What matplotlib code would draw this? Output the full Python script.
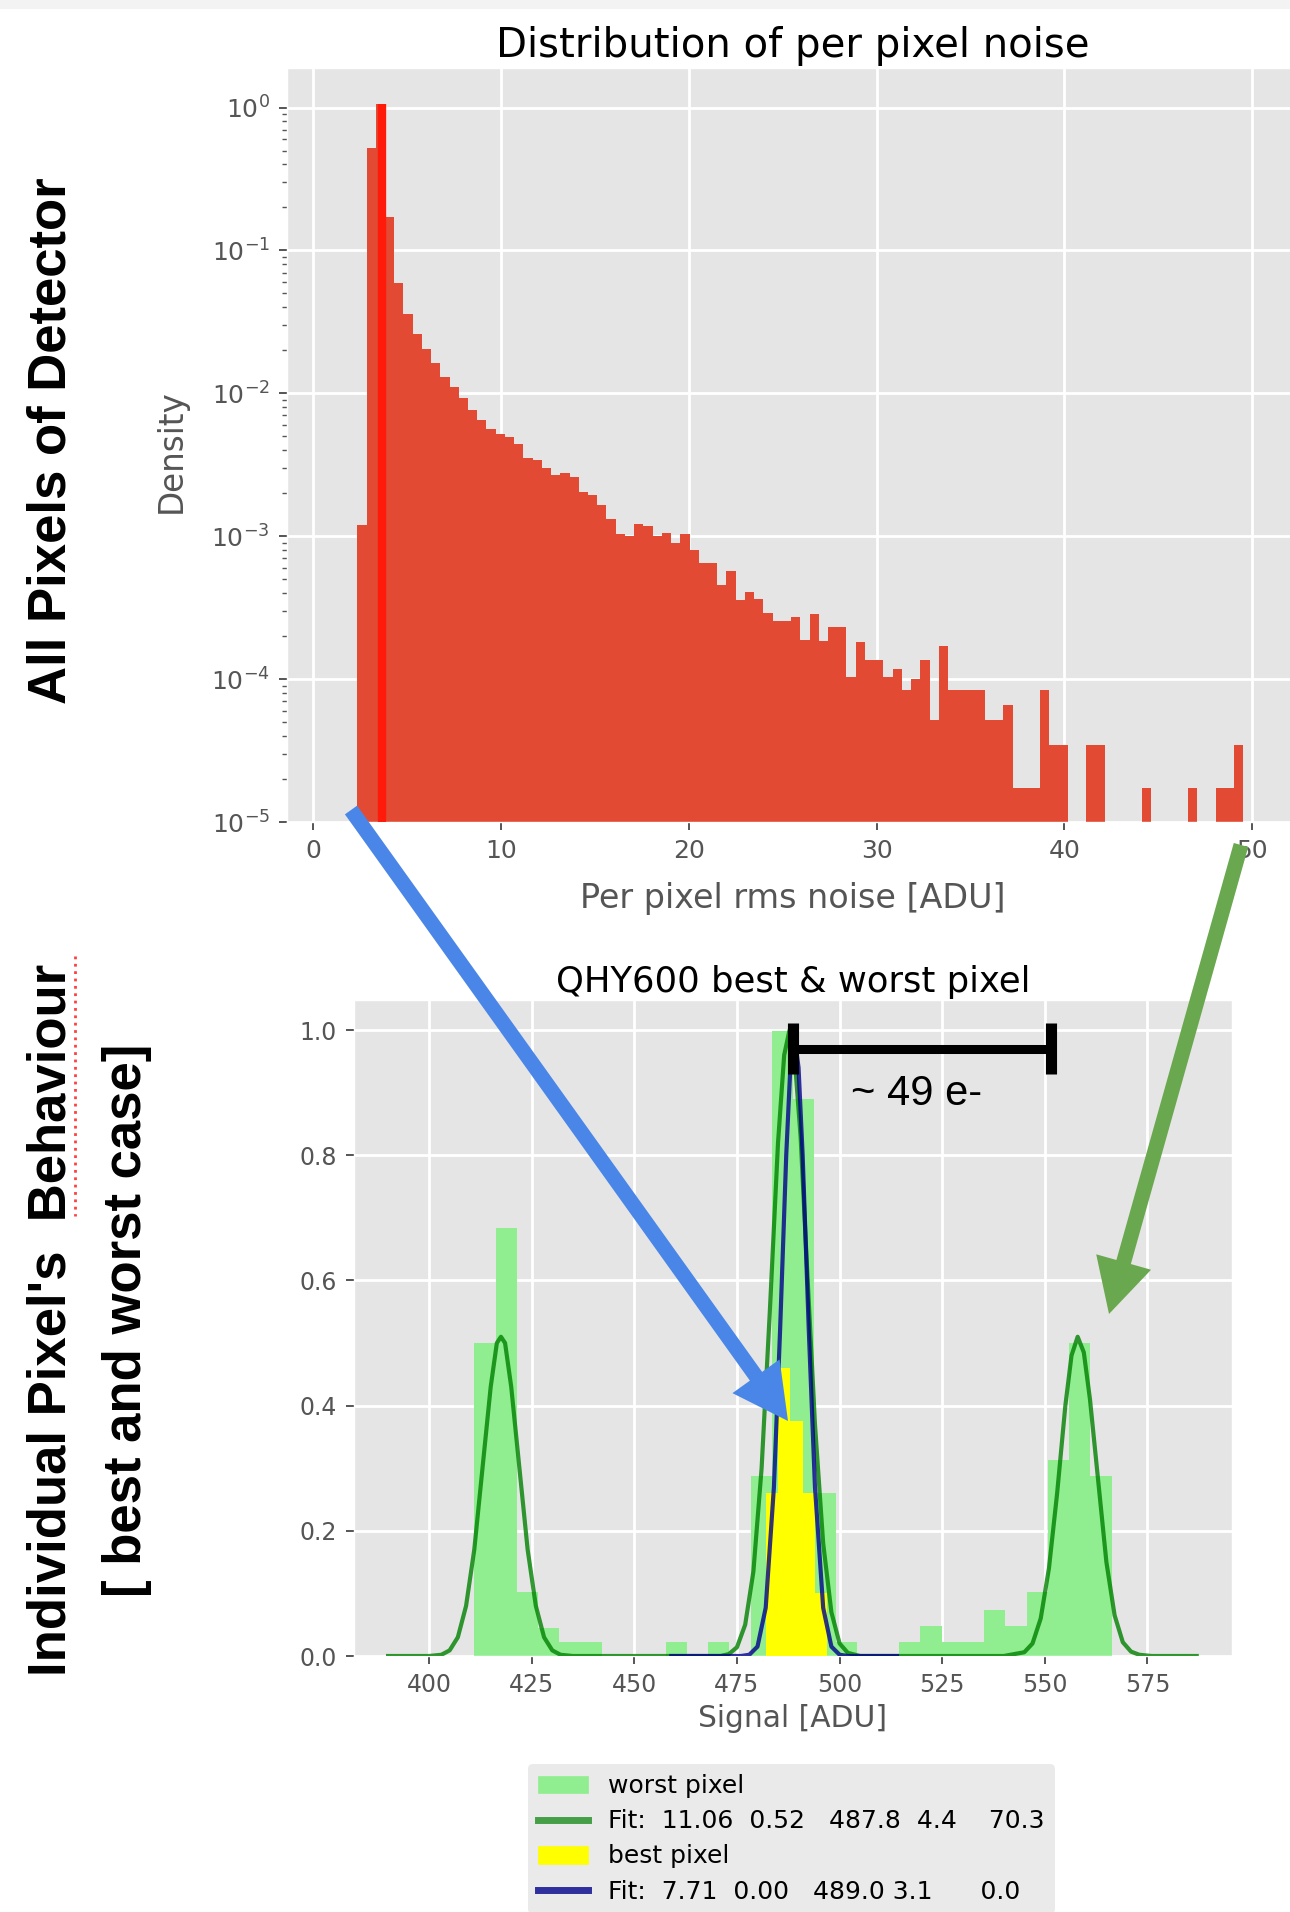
import numpy as np
import matplotlib
matplotlib.use('Agg')
import matplotlib.pyplot as plt
from matplotlib.patches import FancyArrow, Rectangle, Patch
from matplotlib.lines import Line2D

# ---- top panel: distribution of per pixel rms noise (density, log y) ----
noise_lo, noise_hi = 2.34, 49.53          # outer bin edges [ADU]
noise_density = [
    0.00119, 0.52, 1.05, 0.17, 0.059, 0.0358, 0.0258, 0.0205, 0.0162, 0.0130,
    0.0110, 0.0092, 0.0077, 0.00647, 0.00562, 0.0052, 0.00493, 0.00439, 0.00353, 0.00342,
    0.00302, 0.0027, 0.00279, 0.0026, 0.00205, 0.00194, 0.00166, 0.00131, 0.00104, 0.00100,
    0.00121, 0.00117, 0.00100, 0.00106, 0.00089, 0.00104, 0.000804, 0.000652, 0.000652, 0.000459,
    0.000571, 0.000358, 0.000408, 0.000363, 0.000288, 0.000257, 0.000257, 0.00027, 0.000188, 0.000284,
    0.000184, 0.000232, 0.000232, 0.000103, 0.000181, 0.000137, 0.000137, 0.000103, 0.000118, 0.0000843,
    0.000100, 0.000135, 0.000052, 0.000170, 0.0000843, 0.0000843, 0.0000843, 0.0000843, 0.000052, 0.000052,
    0.000066, 0.0000174, 0.0000174, 0.0000174, 0.0000843, 0.0000348, 0.0000348, 0, 0, 0.0000348,
    0.0000348, 0, 0, 0, 0, 0.0000174, 0, 0, 0, 0,
    0.0000174, 0, 0, 0.0000174, 0.0000174, 0.0000348,
]
noise_mean = 3.63
noise_xticks = [0, 10, 20, 30, 40, 50]

# ---- bottom panel: best & worst pixel signal histograms ----
worst_lo, worst_hi = 411.0, 566.3
worst_hist = [0.50, 0.683, 0.103, 0.044, 0.022, 0.022, 0, 0, 0, 0.022,
              0, 0.022, 0, 0.287, 0.998, 0.89, 0.261, 0.022, 0, 0,
              0.022, 0.048, 0.022, 0.022, 0.074, 0.048, 0.103, 0.313, 0.50, 0.287]
best_edges = [482.0, 485.0, 488.0, 491.0, 494.0, 497.0]
best_hist = [0.26, 0.46, 0.375, 0.26, 0.10]

worst_fit_x = [390, 396, 400, 403, 405, 407, 409, 411, 413, 415, 416.5, 417.5, 418.5, 420,
               422, 424, 426, 428, 430, 432, 435, 440, 460, 468, 471, 473, 475, 477, 479,
               481, 483, 485, 486.5, 487.8, 489, 490.5, 492, 494, 496, 498, 500, 502, 505,
               510, 530, 540, 545, 547, 549, 551, 553, 555, 556.5, 558, 559.5, 561, 563,
               565, 567, 569, 571, 573, 576, 580, 587]
worst_fit_y = [0, 0, 0, 0.002, 0.009, 0.03, 0.08, 0.17, 0.30, 0.43, 0.50, 0.51, 0.50, 0.43,
               0.30, 0.17, 0.08, 0.03, 0.009, 0.002, 0, 0, 0, 0, 0, 0.003, 0.014, 0.05, 0.135,
               0.30, 0.55, 0.82, 0.96, 1.0, 0.96, 0.83, 0.63, 0.37, 0.18, 0.07, 0.02, 0.005, 0,
               0, 0, 0, 0.006, 0.02, 0.06, 0.14, 0.26, 0.40, 0.48, 0.51, 0.485, 0.41, 0.28,
               0.15, 0.065, 0.022, 0.007, 0.002, 0, 0, 0]
best_fit_x = [459, 470, 476, 478, 480, 482, 484, 485.5, 487, 488, 489, 490, 491, 492.5,
              494, 496, 498, 500, 502, 506, 514]
best_fit_y = [0, 0, 0, 0.002, 0.015, 0.077, 0.27, 0.52, 0.80, 0.94, 0.99, 0.94, 0.80, 0.52,
              0.27, 0.077, 0.015, 0.002, 0, 0, 0]
signal_xticks = [400, 425, 450, 475, 500, 525, 550, 575]
signal_yticks = [0.0, 0.2, 0.4, 0.6, 0.8, 1.0]

worst_label = 'Fit:  11.06  0.52   487.8  4.4    70.3'
best_label = 'Fit:  7.71  0.00   489.0 3.1      0.0'

plt.style.use('ggplot')
plt.rcParams['font.family'] = ['DejaVu Sans']

W, H = 1290, 1912
fig = plt.figure(figsize=(W / 100, H / 100), dpi=100)


def box(l, t, r, b):
    return [l / W, 1 - b / H, (r - l) / W, (b - t) / H]


def style_ticks(ax, size):
    ax.tick_params(which='major', length=6, width=1.4, pad=6, labelsize=size, colors='#555555')
    ax.tick_params(which='minor', length=3.5, width=1.0, colors='#555555')
    ax.grid(True, color='white', linewidth=2)


# top histogram
ax1 = fig.add_axes(box(286.5, 68, 1300, 822))
edges = np.linspace(noise_lo, noise_hi, len(noise_density) + 1)
ax1.hist(edges[:-1], bins=edges, weights=noise_density, log=True, color='#E24A33')
ax1.vlines(noise_mean, 1e-5, 1.05, color='#ff1a0a', linewidth=6, zorder=3)
ax1.set_xlim(-1.43, 52.55)
ax1.set_ylim(1e-5, 1.89)
ax1.set_xticks(noise_xticks)
style_ticks(ax1, 18)
ax1.set_title('Distribution of per pixel noise', fontsize=29, pad=8)
ax1.set_xlabel('Per pixel rms noise [ADU]', fontsize=24, color='#555555', va='center')
ax1.xaxis.set_label_coords(0.5, -0.1016)
ax1.set_ylabel('Density', fontsize=23.5, color='#555555', va='center')
ax1.yaxis.set_label_coords(-0.114, 0.492)

# bottom: best & worst pixel
ax2 = fig.add_axes(box(353.6, 1000, 1232, 1656))
w_edges = np.linspace(worst_lo, worst_hi, len(worst_hist) + 1)
ax2.hist(w_edges[:-1], bins=w_edges, weights=worst_hist, color='lightgreen', zorder=2)
ax2.hist(best_edges[:-1], bins=best_edges, weights=best_hist, color='yellow', zorder=3)
ax2.plot(worst_fit_x, worst_fit_y, color='green', alpha=0.8, linewidth=3, zorder=4)
ax2.plot(best_fit_x, best_fit_y, color='darkblue', alpha=0.8, linewidth=3, zorder=5)
ax2.set_xlim(381.6, 595.6)
ax2.set_ylim(0, 1.048)
ax2.set_xticks(signal_xticks)
ax2.set_yticks(signal_yticks)
style_ticks(ax2, 17)
ax2.set_title('QHY600 best & worst pixel', fontsize=25.5, pad=6)
ax2.set_xlabel('Signal [ADU]', fontsize=21.4, color='#555555', va='center')
ax2.xaxis.set_label_coords(0.5, -0.096)

handles = [Patch(color='lightgreen', label='worst pixel'),
           Line2D([], [], color='green', alpha=0.7, linewidth=5, label=worst_label),
           Patch(color='yellow', label='best pixel'),
           Line2D([], [], color='darkblue', alpha=0.8, linewidth=5, label=best_label)]
fig.legend(handles=handles, loc='upper left', bbox_to_anchor=(528 / W, 1 - 1764 / H),
           borderaxespad=0, fontsize=18, labelspacing=0.45, handlelength=2.0,
           frameon=True, facecolor='#E5E5E5', edgecolor='none', framealpha=0.8)

# slide annotations drawn on top, in pixel coordinates
ov = fig.add_axes([0, 0, 1, 1], zorder=10)
ov.set_xlim(0, W)
ov.set_ylim(H, 0)
ov.axis('off')

ov.add_patch(Rectangle((0, 0), W, 9, color='#f3f3f3', linewidth=0))

ov.add_patch(FancyArrow(351, 810, 788 - 351, 1421 - 810, width=15, head_width=58,
                        head_length=55, length_includes_head=True, color='#4a86e8', linewidth=0))
ov.add_patch(FancyArrow(1241, 845, 1109 - 1241, 1314 - 845, width=15, head_width=57,
                        head_length=54, length_includes_head=True, color='#6aa84f', linewidth=0))

ov.plot([792.7, 1051], [1049, 1049], color='black', linewidth=6.5, solid_capstyle='butt')
ov.plot([792.7, 792.7], [1023, 1074], color='black', linewidth=8, solid_capstyle='butt')
ov.plot([1051, 1051], [1023, 1074], color='black', linewidth=8, solid_capstyle='butt')
ov.text(917, 1094, '~ 49 e-', fontsize=30, family='Liberation Sans', ha='center', va='center')

side = dict(rotation=90, ha='center', va='center', fontsize=38, fontweight='bold',
            family='Liberation Sans', color='black')
ov.text(52, 441, 'All Pixels of Detector', **side)
ov.text(52, 1320, "Individual Pixel's  Behaviour", **side)
ov.text(127, 1320, '[ best and worst case]', **side)
ov.plot([75, 75], [956, 1216], color='#ff4040', linewidth=2, linestyle=':')

fig.savefig('out.png', dpi=100)
